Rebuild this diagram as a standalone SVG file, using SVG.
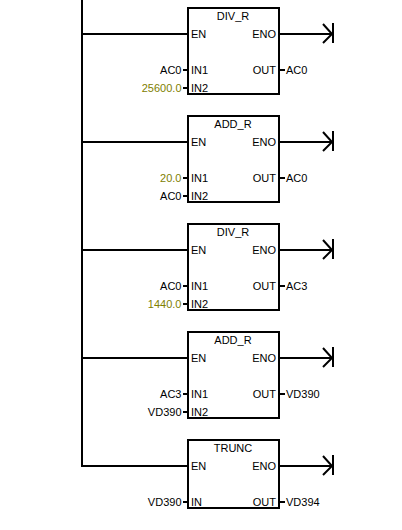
<svg xmlns="http://www.w3.org/2000/svg" width="402" height="530" viewBox="0 0 402 530">
<defs>
<style>
text{font-family:"Liberation Sans",Arial,sans-serif;font-size:11px;fill:#000}
.e{text-anchor:end}.m{text-anchor:middle}.c{fill:#808000}
.b{fill:#fff;stroke:#000;stroke-width:2}
.w{fill:none;stroke:#000;stroke-width:2}
</style>
<g id="coil"><path class="w" d="M280 34H332M323 24L332 34L323 43M333 23V43"/></g>
<g id="stubs2"><path class="w" d="M183 70H188M183 88H188M279 70H285"/></g>
</defs>
<rect width="402" height="530" fill="#fff"/>
<g id="connectors">
<path class="w" d="M82 0V466H188M82 34H188M82 142H188M82 250H188M82 358H188"/>
<use href="#coil"/><use href="#coil" y="108"/><use href="#coil" y="216"/><use href="#coil" y="324"/><use href="#coil" y="432"/>
<use href="#stubs2"/><use href="#stubs2" y="108"/><use href="#stubs2" y="216"/><use href="#stubs2" y="324"/>
<path class="w" d="M183 502H188M279 502H285"/>
</g>
<g id="n1"><rect class="b" x="188" y="8" width="91" height="86"/>
<text class="m" x="233" y="20">DIV_R</text><text x="191" y="38">EN</text><text class="e" x="276" y="38">ENO</text><text x="191" y="74">IN1</text><text x="191" y="92">IN2</text><text class="e" x="276" y="74">OUT</text>
<text class="e" x="181.500" y="74">AC0</text><text class="e c" x="181.500" y="92">25600.0</text><text x="286" y="74">AC0</text></g>
<g id="n2"><rect class="b" x="188" y="116" width="91" height="86"/>
<text class="m" x="233" y="128">ADD_R</text><text x="191" y="146">EN</text><text class="e" x="276" y="146">ENO</text><text x="191" y="182">IN1</text><text x="191" y="200">IN2</text><text class="e" x="276" y="182">OUT</text>
<text class="e c" x="181.500" y="182">20.0</text><text class="e" x="181.500" y="200">AC0</text><text x="286" y="182">AC0</text></g>
<g id="n3"><rect class="b" x="188" y="224" width="91" height="86"/>
<text class="m" x="233" y="236">DIV_R</text><text x="191" y="254">EN</text><text class="e" x="276" y="254">ENO</text><text x="191" y="290">IN1</text><text x="191" y="308">IN2</text><text class="e" x="276" y="290">OUT</text>
<text class="e" x="181.500" y="290">AC0</text><text class="e c" x="181.500" y="308">1440.0</text><text x="286" y="290">AC3</text></g>
<g id="n4"><rect class="b" x="188" y="332" width="91" height="86"/>
<text class="m" x="233" y="344">ADD_R</text><text x="191" y="362">EN</text><text class="e" x="276" y="362">ENO</text><text x="191" y="398">IN1</text><text x="191" y="416">IN2</text><text class="e" x="276" y="398">OUT</text>
<text class="e" x="181.500" y="398">AC3</text><text class="e" x="181.500" y="416">VD390</text><text x="286" y="398">VD390</text></g>
<g id="n5"><rect class="b" x="188" y="440" width="91" height="68"/>
<text class="m" x="233" y="452">TRUNC</text><text x="191" y="470">EN</text><text class="e" x="276" y="470">ENO</text><text x="191" y="506">IN</text><text class="e" x="276" y="506">OUT</text>
<text class="e" x="181.500" y="506">VD390</text><text x="286" y="506">VD394</text></g>
</svg>
